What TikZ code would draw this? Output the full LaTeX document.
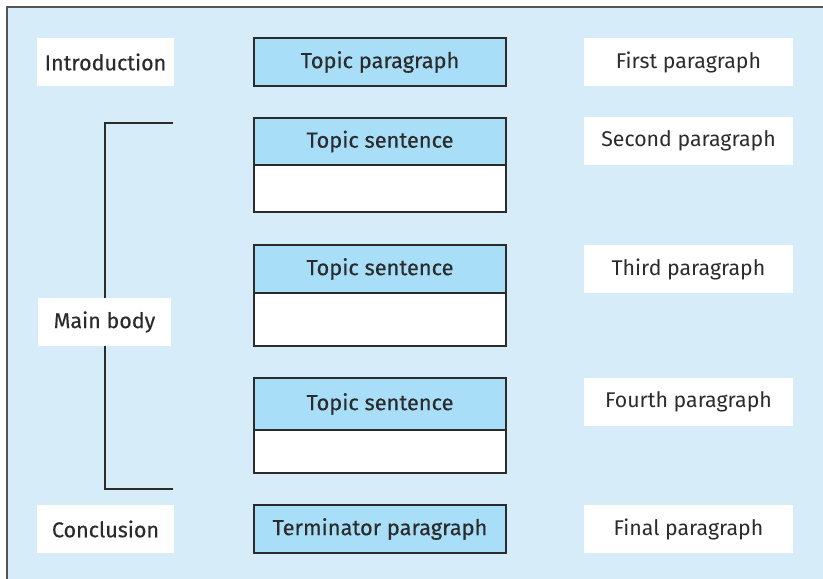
\documentclass[tikz,border=0pt]{standalone}
\usepackage{fontspec}
\setmainfont{Fira Sans}
\newfontfamily\medfont[FakeBold=0.35]{Fira Sans}
\definecolor{bgblue}{HTML}{D6EDF9}
\definecolor{boxblue}{HTML}{A8DEF8}
\definecolor{edge}{HTML}{2B2B2B}
\tikzset{
  lab/.style={fill=white, inner sep=0pt, font=\fontsize{21.5}{24}\selectfont\medfont, text=edge},
  rlab/.style={fill=white, inner sep=0pt, font=\fontsize{21.3}{24}\selectfont, text=edge},
  head/.style={draw=edge, line width=1.3pt, fill=boxblue, inner sep=0pt, minimum width=252pt, font=\fontsize{21.8}{24}\selectfont\medfont, text=edge},
  body/.style={draw=edge, line width=1.3pt, fill=white, inner sep=0pt, minimum width=252pt},
  frameline/.style={draw=edge!80, line width=1.3pt},
  bracket/.style={draw=edge, line width=1.2pt}
}
\begin{document}
\begin{tikzpicture}[x=1pt, y=-1pt]
\useasboundingbox (0,0) rectangle (823,579);
\fill[bgblue] (7,7) rectangle (823,579);
\draw[frameline] (7,579) -- (7,7) -- (823,7);
% bracket
\coordinate (bt) at (173,123);
\coordinate (bb) at (173,489);
\draw[bracket] (bt) -- (105,123) -- (105,489) -- (bb);
% left labels
\node[lab, minimum width=137pt, minimum height=48pt] (intro) at (105.5,62) {Introduction};
\node[lab, minimum width=133pt, minimum height=48pt] (mainbody) at (104.5,322) {Main body};
\node[lab, minimum width=137pt, minimum height=48pt] (concl) at (105.5,529) {Conclusion};
% middle boxes
\node[head, minimum height=48pt] (tp) at (380,62) {Topic paragraph};
\node[head, minimum height=47pt] (ts1) at (380,141.5) {Topic sentence};
\node[body, minimum height=47pt] (b1) at (380,188.5) {};
\node[head, minimum height=48pt] (ts2) at (380,269) {Topic sentence};
\node[body, minimum height=53pt] (b2) at (380,319.5) {};
\node[head, minimum height=52pt] (ts3) at (380,404) {Topic sentence};
\node[body, minimum height=43pt] (b3) at (380,451.5) {};
\node[head, minimum height=48pt] (term) at (380,529) {Terminator paragraph};
% right labels
\node[rlab, minimum width=209pt, minimum height=48pt] (r1) at (688.5,62) {First paragraph};
\node[rlab, minimum width=209pt, minimum height=48pt] (r2) at (688.5,141) {Second paragraph};
\node[rlab, minimum width=209pt, minimum height=48pt] (r3) at (688.5,269) {Third paragraph};
\node[rlab, minimum width=209pt, minimum height=48pt] (r4) at (688.5,402) {Fourth paragraph};
\node[rlab, minimum width=209pt, minimum height=48pt] (r5) at (688.5,529) {Final paragraph};
\end{tikzpicture}
\end{document}
